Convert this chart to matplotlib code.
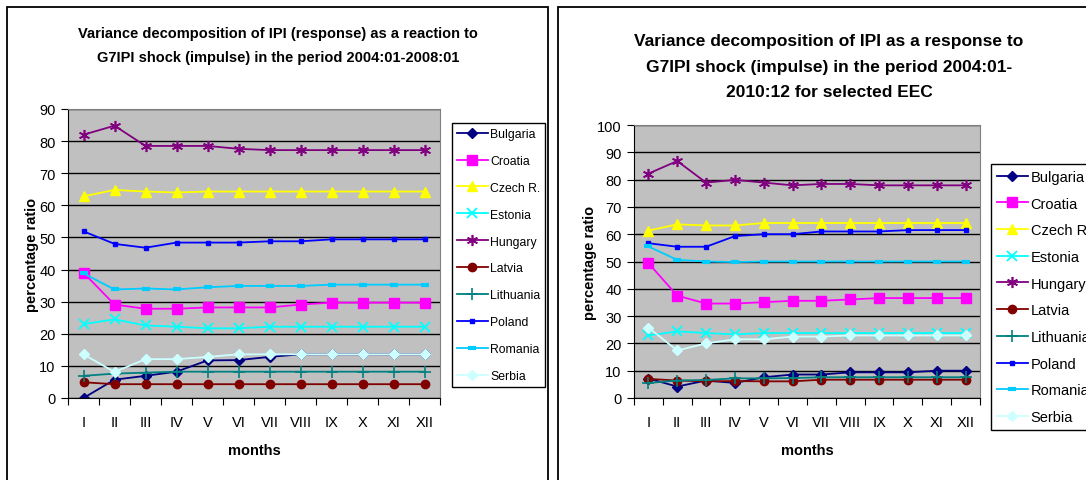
import numpy as np
import matplotlib
matplotlib.use("Agg")
import matplotlib.pyplot as plt
from matplotlib.patches import Rectangle

plt.rcParams['font.family'] = ['Liberation Sans', 'DejaVu Sans']

months = ["I", "II", "III", "IV", "V", "VI", "VII", "VIII", "IX", "X", "XI", "XII"]
countries = ["Bulgaria", "Croatia", "Czech R.", "Estonia", "Hungary",
             "Latvia", "Lithuania", "Poland", "Romania", "Serbia"]

# period 2004:01-2008:01
left_bulgaria = [0.0, 5.7, 6.9, 8.2, 11.7, 11.8, 12.8, 13.6, 13.6, 13.6, 13.6, 13.6]
left_croatia = [39.0, 29.1, 27.8, 27.8, 28.2, 28.2, 28.2, 29.1, 29.7, 29.7, 29.7, 29.7]
left_czech = [62.8, 64.8, 64.3, 64.0, 64.3, 64.3, 64.3, 64.3, 64.3, 64.3, 64.3, 64.3]
left_estonia = [23.0, 24.5, 22.6, 22.2, 21.7, 21.7, 22.2, 22.2, 22.2, 22.2, 22.2, 22.2]
left_hungary = [82.0, 84.8, 78.5, 78.5, 78.5, 77.6, 77.2, 77.2, 77.2, 77.2, 77.2, 77.2]
left_latvia = [4.9, 4.3, 4.3, 4.3, 4.3, 4.3, 4.3, 4.3, 4.3, 4.3, 4.3, 4.3]
left_lithuania = [6.9, 7.6, 7.9, 8.2, 8.2, 8.2, 8.2, 8.2, 8.2, 8.2, 8.2, 8.2]
left_poland = [51.9, 48.0, 46.8, 48.4, 48.4, 48.4, 48.8, 48.8, 49.4, 49.4, 49.4, 49.4]
left_romania = [38.8, 33.8, 34.1, 33.8, 34.5, 34.9, 34.9, 34.9, 35.3, 35.3, 35.3, 35.3]
left_serbia = [13.6, 8.1, 12.1, 12.1, 12.8, 13.6, 13.6, 13.6, 13.6, 13.6, 13.6, 13.6]

# period 2004:01-2010:12
right_bulgaria = [7.1, 4.2, 6.4, 5.5, 7.6, 8.6, 8.6, 9.4, 9.4, 9.4, 10.0, 10.0]
right_croatia = [49.4, 37.5, 34.6, 34.6, 35.1, 35.6, 35.6, 36.1, 36.6, 36.6, 36.6, 36.6]
right_czech = [61.3, 63.6, 63.2, 63.2, 64.1, 64.1, 64.1, 64.1, 64.1, 64.1, 64.1, 64.1]
right_estonia = [22.9, 24.4, 23.8, 23.3, 23.8, 23.8, 23.8, 23.8, 23.8, 23.8, 23.8, 23.8]
right_hungary = [82.2, 86.8, 78.9, 79.9, 78.9, 77.9, 78.4, 78.4, 77.9, 77.9, 77.9, 77.9]
right_latvia = [7.0, 6.4, 6.1, 6.2, 6.1, 6.1, 6.7, 6.7, 6.7, 6.7, 6.7, 6.7]
right_lithuania = [5.5, 6.4, 6.6, 7.2, 7.2, 7.3, 7.6, 7.6, 7.6, 7.6, 7.6, 7.6]
right_poland = [56.7, 55.4, 55.4, 59.3, 60.0, 60.0, 61.0, 61.0, 61.0, 61.5, 61.5, 61.5]
right_romania = [55.5, 50.6, 50.0, 49.8, 50.0, 50.0, 50.0, 50.0, 50.0, 50.0, 50.0, 50.0]
right_serbia = [25.8, 17.4, 20.0, 21.5, 21.5, 22.5, 22.5, 22.9, 22.9, 22.9, 22.9, 22.9]

left_series = [left_bulgaria, left_croatia, left_czech, left_estonia, left_hungary,
               left_latvia, left_lithuania, left_poland, left_romania, left_serbia]
right_series = [right_bulgaria, right_croatia, right_czech, right_estonia, right_hungary,
                right_latvia, right_lithuania, right_poland, right_romania, right_serbia]

left_title = ["Variance decomposition of IPI (response) as a reaction to",
              "G7IPI shock (impulse) in the period 2004:01-2008:01"]
right_title = ["Variance decomposition of IPI as a response to",
               "G7IPI shock (impulse) in the period 2004:01-",
               "2010:12 for selected EEC"]

styles = [
    dict(color="#000080", marker="D", ms=5),
    dict(color="#FF00FF", marker="s", ms=6.5),
    dict(color="#FFFF00", marker="^", ms=7.5),
    dict(color="#00FFFF", marker="x", ms=7, mew=1.3),
    dict(color="#800080", marker=(6, 2, 0), ms=8, mew=1.2),
    dict(color="#800000", marker="o", ms=6),
    dict(color="#008080", marker="+", ms=8, mew=1.2),
    dict(color="#0000FF", marker="s", ms=3),
    dict(color="#00CCFF", marker="_", ms=6, mew=3),
    dict(color="#CCFFFF", marker="D", ms=5.5),
]

W, H = 1086, 481
fig = plt.figure(figsize=(W / 100, H / 100), dpi=100)


def px(x0, y0, x1, y1):
    return [x0 / W, 1 - y1 / H, (x1 - x0) / W, (y1 - y0) / H]


# chart frames
for x0, x1 in [(7, 548), (558, 1100)]:
    fig.add_artist(Rectangle((x0 / W, -0.05), (x1 - x0) / W, 1.05 - 8 / H,
                             transform=fig.transFigure, fill=False,
                             edgecolor="black", linewidth=1.3))


def draw(rect, series, ymax, title, title_x, title_y, title_fs, leg_xy, leg_fs, leg_ls):
    ax = fig.add_axes(rect)
    ax.set_facecolor("#C0C0C0")
    x = np.arange(len(months))
    for name, vals, st in zip(countries, series, styles):
        ax.plot(x, vals, label=name, lw=1.3, color=st["color"], marker=st["marker"],
                ms=st["ms"], mew=st.get("mew", 1), mec=st["color"], mfc=st["color"])
    ax.set_xlim(-0.5, len(months) - 0.5)
    ax.set_ylim(0, ymax)
    ax.set_yticks(np.arange(0, ymax + 1, 10))
    ax.grid(axis="y", color="black", lw=1)
    ax.set_axisbelow(True)
    ax.set_xticks(np.arange(-0.5, len(months)), labels=[])
    ax.set_xticks(x, labels=months, minor=True)
    ax.tick_params(axis="x", which="major", length=5, direction="out")
    ax.tick_params(axis="x", which="minor", length=0, pad=12, labelsize=10.5)
    ax.tick_params(axis="y", length=5, pad=4, labelsize=10.5)
    for s in ["top", "right"]:
        ax.spines[s].set_color("#808080")
    ax.spines["left"].set_color("black")
    ax.spines["bottom"].set_color("black")
    ax.set_xlabel("months", fontweight="bold", fontsize=10.5, labelpad=10)
    ax.set_ylabel("percentage ratio", fontweight="bold", fontsize=10.5, labelpad=0)
    for line, y in zip(title, title_y):
        fig.text(title_x / W, 1 - y / H, line, ha="center", va="baseline",
                 fontsize=title_fs, fontweight="bold")
    ax.legend(loc="upper left", bbox_to_anchor=(leg_xy[0] / W, 1 - leg_xy[1] / H),
              bbox_transform=fig.transFigure, fancybox=False, edgecolor="black",
              framealpha=1, borderaxespad=0, handlelength=31 / (leg_fs * 1.39),
              handletextpad=0.2, labelspacing=leg_ls, fontsize=leg_fs, borderpad=0.4)
    return ax


draw(px(68, 110, 440, 399), left_series, 90, left_title, 278, [38, 62], 10.5,
     (452, 124), 8.8, 1.22)
draw(px(634, 126, 980, 399), right_series, 100, right_title, 829, [46, 72, 97], 12.5,
     (991, 165), 10.5, 0.87)

fig.savefig("out.png", dpi=100)
